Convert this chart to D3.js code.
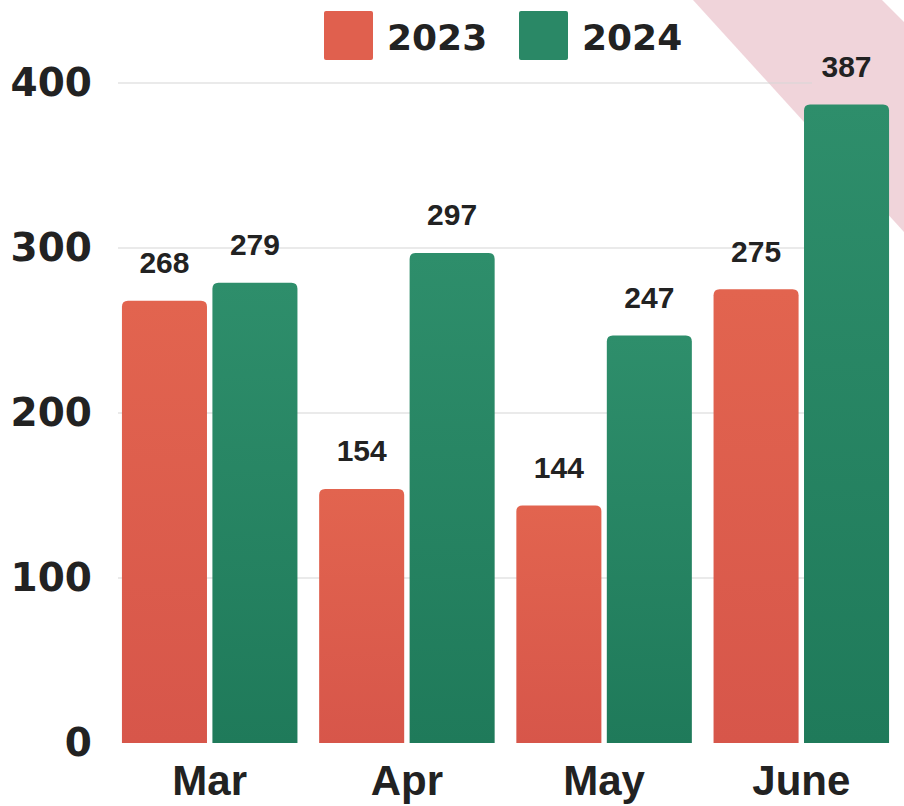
<!DOCTYPE html>
<html>
<head>
<meta charset="utf-8">
<script src="https://cdn.jsdelivr.net/npm/d3@7"></script>
<style>
  html, body { margin: 0; padding: 0; background: #ffffff; }
  svg { display: block; }
</style>
</head>
<body>
<svg id="chart" width="904" height="806"></svg>
<script>
// Monthly totals, two years side by side
const months = ["Mar", "Apr", "May", "June"];
const seriesNames = ["2023", "2024"];
const values2023 = [268, 154, 144, 275];
const values2024 = [279, 297, 247, 387];
const yTicks = [0, 100, 200, 300, 400];
const colors = ["#e0604e", "#2a8866"];

const svg = d3.select("#chart");

// Soft pink diagonal band in the top-right corner
svg.append("path")
  .attr("d", "M693,0 L882,0 L904,22 L904,232 Z")
  .attr("fill", "#ecc9d1")
  .attr("opacity", 0.8);

const x0 = d3.scaleBand().domain(months).range([118, 893]).paddingInner(0.11).paddingOuter(0.02);
const x1 = d3.scaleBand().domain(seriesNames).range([0, x0.bandwidth()]).paddingInner(0.06);
const y = d3.scaleLinear().domain([0, 400]).range([743, 83]);

// vertical gradients for the bars
const defs = svg.append("defs");
[["g2023", "#e2644f", "#d7564a"], ["g2024", "#2e8e6b", "#1f7a5a"]].forEach(([id, a, b]) => {
  const g = defs.append("linearGradient").attr("id", id).attr("x1", 0).attr("y1", 0).attr("x2", 0).attr("y2", 1);
  g.append("stop").attr("offset", "0%").attr("stop-color", a);
  g.append("stop").attr("offset", "100%").attr("stop-color", b);
});

// horizontal gridlines
svg.append("g")
  .selectAll("line")
  .data(yTicks.filter(d => d > 0))
  .join("line")
  .attr("x1", 118).attr("x2", 812)
  .attr("y1", d => y(d)).attr("y2", d => y(d))
  .attr("stroke", "#d6d6d6").attr("stroke-width", 1.2);

// y-axis labels
const yAxis = d3.axisLeft(y).tickValues(yTicks).tickSize(0).tickPadding(0);
const yg = svg.append("g").attr("transform", "translate(92,0)").call(yAxis);
yg.select(".domain").remove();
yg.selectAll("text")
  .attr("font-family", "'DejaVu Sans', sans-serif")
  .attr("font-weight", "bold")
  .attr("font-size", 39)
  .attr("fill", "#222");

// bars with rounded top corners
const data = months.map((m, i) => ({ month: m, vals: [values2023[i], values2024[i]] }));
const r = 6;
function topRounded(x, yTop, w, yBot) {
  return `M${x},${yBot} L${x},${yTop + r} Q${x},${yTop} ${x + r},${yTop} L${x + w - r},${yTop} Q${x + w},${yTop} ${x + w},${yTop + r} L${x + w},${yBot} Z`;
}
const groups = svg.append("g").selectAll("g")
  .data(data).join("g")
  .attr("transform", d => `translate(${x0(d.month)},0)`);

groups.selectAll("path")
  .data(d => d.vals.map((v, j) => ({ v, s: seriesNames[j] })))
  .join("path")
  .attr("d", d => topRounded(x1(d.s), y(d.v), x1.bandwidth(), y(0)))
  .attr("fill", d => `url(#g${d.s})`);

// value labels above each bar
groups.selectAll("text")
  .data(d => d.vals.map((v, j) => ({ v, s: seriesNames[j] })))
  .join("text")
  .attr("x", d => x1(d.s) + x1.bandwidth() / 2)
  .attr("y", d => y(d.v) - 38)
  .attr("text-anchor", "middle")
  .attr("dominant-baseline", "central")
  .attr("font-family", "'Liberation Sans', Arial, sans-serif")
  .attr("font-weight", "bold")
  .attr("font-size", 30)
  .attr("fill", "#222")
  .text(d => d.v);

// x-axis labels
const xAxis = d3.axisBottom(x0).tickSize(0).tickPadding(0);
const xg = svg.append("g").attr("transform", "translate(0,780)").call(xAxis);
xg.select(".domain").remove();
xg.selectAll("text")
  .attr("dy", "0.35em")
  .attr("font-family", "'Liberation Sans', Arial, sans-serif")
  .attr("font-weight", "bold")
  .attr("font-size", 42)
  .attr("fill", "#222");

// legend
const legend = svg.append("g");
const legendX = [324, 519];
seriesNames.forEach((s, i) => {
  legend.append("rect")
    .attr("x", legendX[i]).attr("y", 11).attr("width", 49).attr("height", 49)
    .attr("rx", 2)
    .attr("fill", colors[i]);
  legend.append("text")
    .attr("x", legendX[i] + 63).attr("y", 37)
    .attr("dominant-baseline", "central")
    .attr("font-family", "'DejaVu Sans', sans-serif")
    .attr("font-weight", "bold")
    .attr("font-size", 36)
    .attr("fill", "#222")
    .text(s);
});
</script>
</body>
</html>
